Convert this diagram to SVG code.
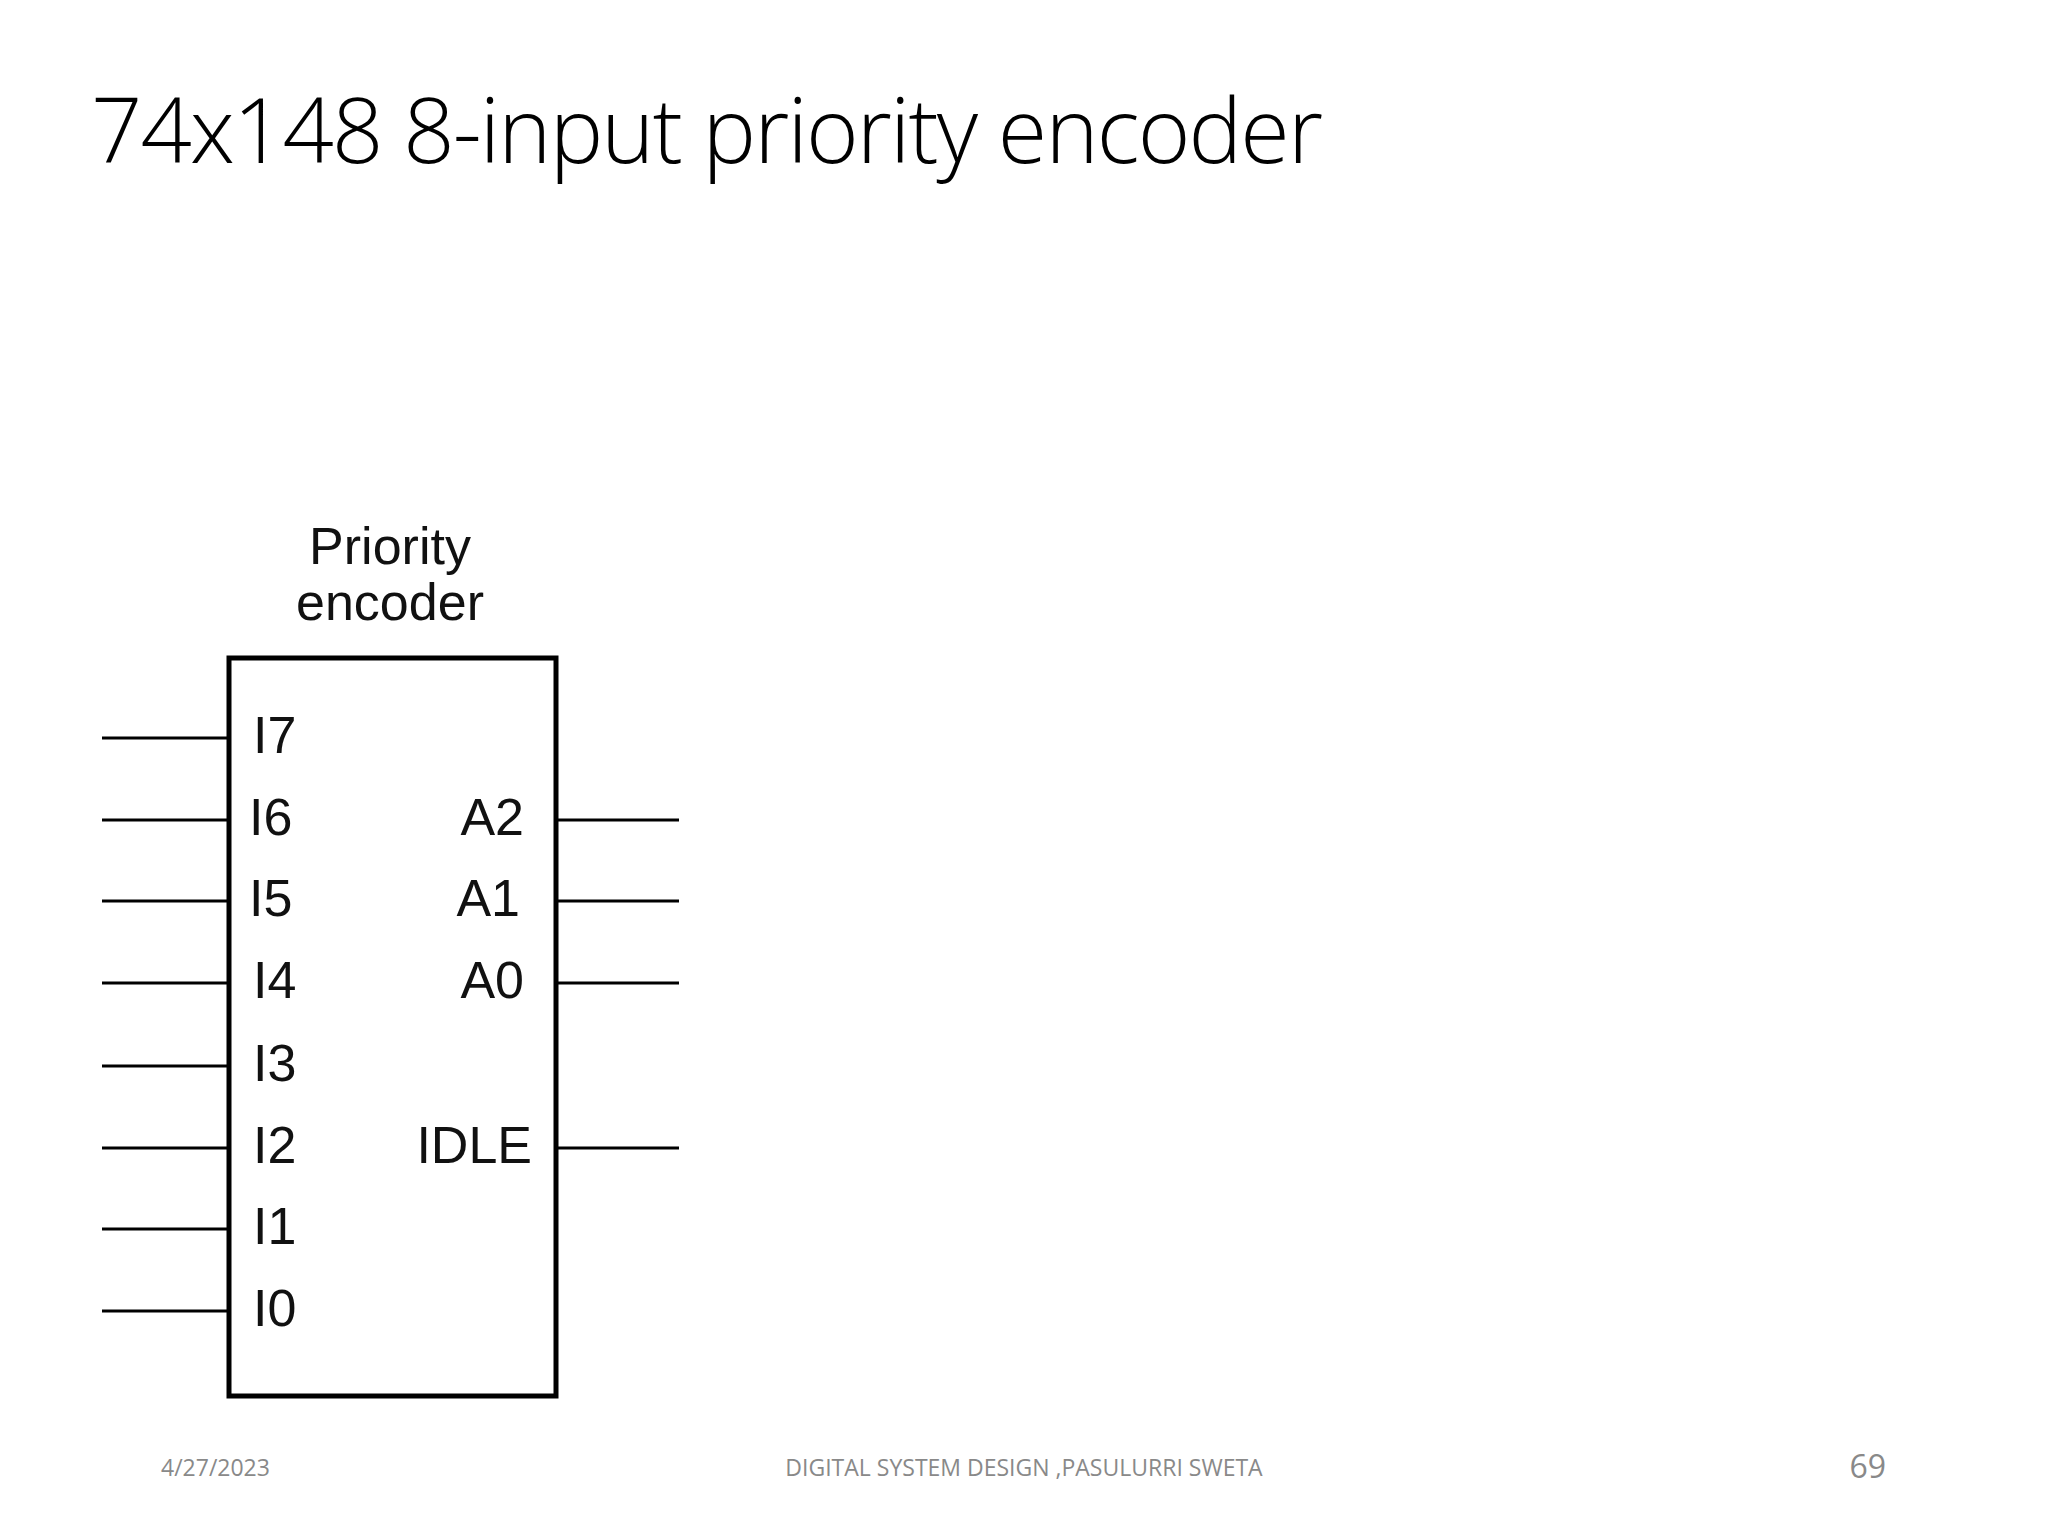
<svg xmlns="http://www.w3.org/2000/svg" width="2048" height="1536" viewBox="0 0 2048 1536">
<style>
.w{stroke:#000;stroke-width:3;fill:none}
.l{font-family:"Liberation Sans",Arial,sans-serif;font-size:52px;fill:#111}
.f{font-family:"Open Sans","Liberation Sans",sans-serif;fill:#898989}
</style>
<rect width="2048" height="1536" fill="#fff"/>
<text x="91" y="163" font-family="'Open Sans','Liberation Sans',sans-serif" font-weight="300" font-size="90" textLength="1232" fill="#000">74x148 8-input priority encoder</text>
<g id="encoder">
<rect x="229" y="658" width="327" height="738" fill="none" stroke="#000" stroke-width="5"/>
<text class="l" x="390" y="564" text-anchor="middle">Priority</text>
<text class="l" x="390" y="620" text-anchor="middle">encoder</text>
<g class="l">
<text x="253" y="753">I7</text><text x="249" y="835">I6</text><text x="249" y="916">I5</text><text x="253" y="998">I4</text>
<text x="253" y="1081">I3</text><text x="253" y="1163">I2</text><text x="253" y="1244">I1</text><text x="253" y="1326">I0</text>
</g>
<g class="l" text-anchor="end">
<text x="524" y="835">A2</text><text x="520" y="916">A1</text><text x="524" y="998">A0</text><text x="532" y="1163">IDLE</text>
</g>
</g>
<g id="connectors" class="w">
<path d="M102 738H229M102 820H229M102 901H229M102 983H229M102 1066H229M102 1148H229M102 1229H229M102 1311H229"/>
<path d="M556 820H679M556 901H679M556 983H679M556 1148H679"/>
</g>
<text class="f" x="161" y="1476" font-size="23">4/27/2023</text>
<text class="f" x="1024" y="1476" font-size="23" text-anchor="middle">DIGITAL SYSTEM DESIGN ,PASULURRI SWETA</text>
<text class="f" x="1886" y="1478" font-size="32" text-anchor="end">69</text>
</svg>
